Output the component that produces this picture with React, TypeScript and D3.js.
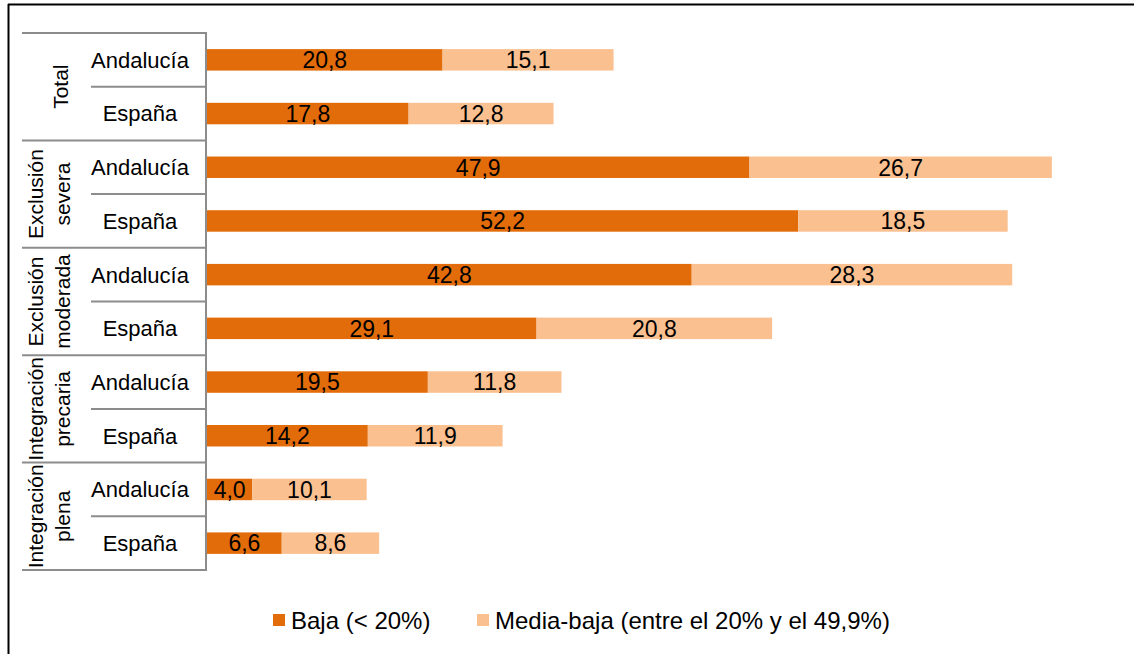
import { useRef, useEffect } from "react";
import * as d3 from "d3";

const groups = [
  ["Total"],
  ["Exclusión", "severa"],
  ["Exclusión", "moderada"],
  ["Integración", "precaria"],
  ["Integración", "plena"],
];
const regions = ["Andalucía", "España"];
const baja = [20.8, 17.8, 47.9, 52.2, 42.8, 29.1, 19.5, 14.2, 4.0, 6.6];
const mediaBaja = [15.1, 12.8, 26.7, 18.5, 28.3, 20.8, 11.8, 11.9, 10.1, 8.6];
const seriesNames = ["Baja (< 20%)", "Media-baja (entre el 20% y el 49,9%)"];
const colors = ["#E36C0A", "#FAC090"];

export default function App() {
  const ref = useRef<SVGSVGElement>(null);

  useEffect(() => {
    const svg = d3.select(ref.current);
    svg.selectAll("*").remove();

    const width = 1134;
    const height = 654;
    const margin = { top: 33, bottom: 84, left: 207, right: 21 };
    const font = "'Liberation Sans', Arial, sans-serif";

    // frame: top and left edges only
    svg.append("line").attr("x1", 8).attr("x2", width).attr("y1", 4.5).attr("y2", 4.5)
      .attr("stroke", "#000").attr("stroke-width", 2);
    svg.append("line").attr("x1", 8.5).attr("x2", 8.5).attr("y1", 4).attr("y2", height)
      .attr("stroke", "#000").attr("stroke-width", 2);

    const rows = d3.range(baja.length);
    const y = d3.scaleBand<number>()
      .domain(rows)
      .range([margin.top, height - margin.bottom])
      .paddingInner(0.6)
      .paddingOuter(0.3);
    const step = y.step();
    const y0 = margin.top;

    const x = d3.scaleLinear().domain([0, 80]).range([margin.left, width - margin.right]);

    const stacked = rows.map(i => ({ i, vals: [baja[i], mediaBaja[i]] }));

    const g = svg.append("g");
    stacked.forEach(d => {
      let acc = 0;
      d.vals.forEach((v, k) => {
        g.append("rect")
          .attr("x", x(acc))
          .attr("y", y(d.i)!)
          .attr("width", x(acc + v) - x(acc))
          .attr("height", y.bandwidth())
          .attr("fill", colors[k]);
        g.append("text")
          .attr("x", (x(acc) + x(acc + v)) / 2)
          .attr("y", y(d.i)! + y.bandwidth() / 2)
          .attr("dy", "0.36em")
          .attr("text-anchor", "middle")
          .attr("font-family", font)
          .attr("font-size", 23)
          .attr("fill", "#000")
          .text(d3.format(".1f")(v).replace(".", ","));
        acc += v;
      });
    });

    // category axis
    const axisColor = "#8c8c8c";
    const bottom = y0 + step * rows.length;
    svg.append("line")
      .attr("x1", 206).attr("x2", 206).attr("y1", y0).attr("y2", bottom)
      .attr("stroke", axisColor).attr("stroke-width", 2);

    groups.forEach((lines, gi) => {
      const top = y0 + gi * 2 * step;
      svg.append("line")
        .attr("x1", 22).attr("x2", 207).attr("y1", top).attr("y2", top)
        .attr("stroke", axisColor).attr("stroke-width", 2);
      svg.append("line")
        .attr("x1", 91).attr("x2", 207).attr("y1", top + step).attr("y2", top + step)
        .attr("stroke", axisColor).attr("stroke-width", 2);

      const cy = top + step;
      const lineGap = 27;
      const cx0 = lines.length === 1 ? 60 : 35;
      lines.forEach((t, li) => {
        const cx = cx0 + li * lineGap;
        svg.append("text")
          .attr("transform", `translate(${cx},${cy}) rotate(-90)`)
          .attr("text-anchor", "middle")
          .attr("dy", "0.36em")
          .attr("font-family", font)
          .attr("font-size", 21)
          .attr("fill", "#000")
          .text(t);
      });

      regions.forEach((r, ri) => {
        const i = gi * 2 + ri;
        svg.append("text")
          .attr("x", 140)
          .attr("y", y(i)! + y.bandwidth() / 2)
          .attr("dy", "0.36em")
          .attr("text-anchor", "middle")
          .attr("font-family", font)
          .attr("font-size", 22)
          .attr("fill", "#000")
          .text(r);
      });
    });
    svg.append("line")
      .attr("x1", 22).attr("x2", 207).attr("y1", bottom).attr("y2", bottom)
      .attr("stroke", axisColor).attr("stroke-width", 2);

    // legend
    const legendX = [273, 477];
    seriesNames.forEach((name, k) => {
      svg.append("rect")
        .attr("x", legendX[k]).attr("y", 614)
        .attr("width", 12).attr("height", 12)
        .attr("fill", colors[k]);
      svg.append("text")
        .attr("x", legendX[k] + 18)
        .attr("y", 629)
        .attr("font-family", font)
        .attr("font-size", 24)
        .attr("fill", "#000")
        .text(name);
    });
  }, []);

  return (
    <svg
      ref={ref}
      width={1134}
      height={654}
      style={{ position: "absolute", left: 0, top: 0, background: "#fff" }}
    ></svg>
  );
}
